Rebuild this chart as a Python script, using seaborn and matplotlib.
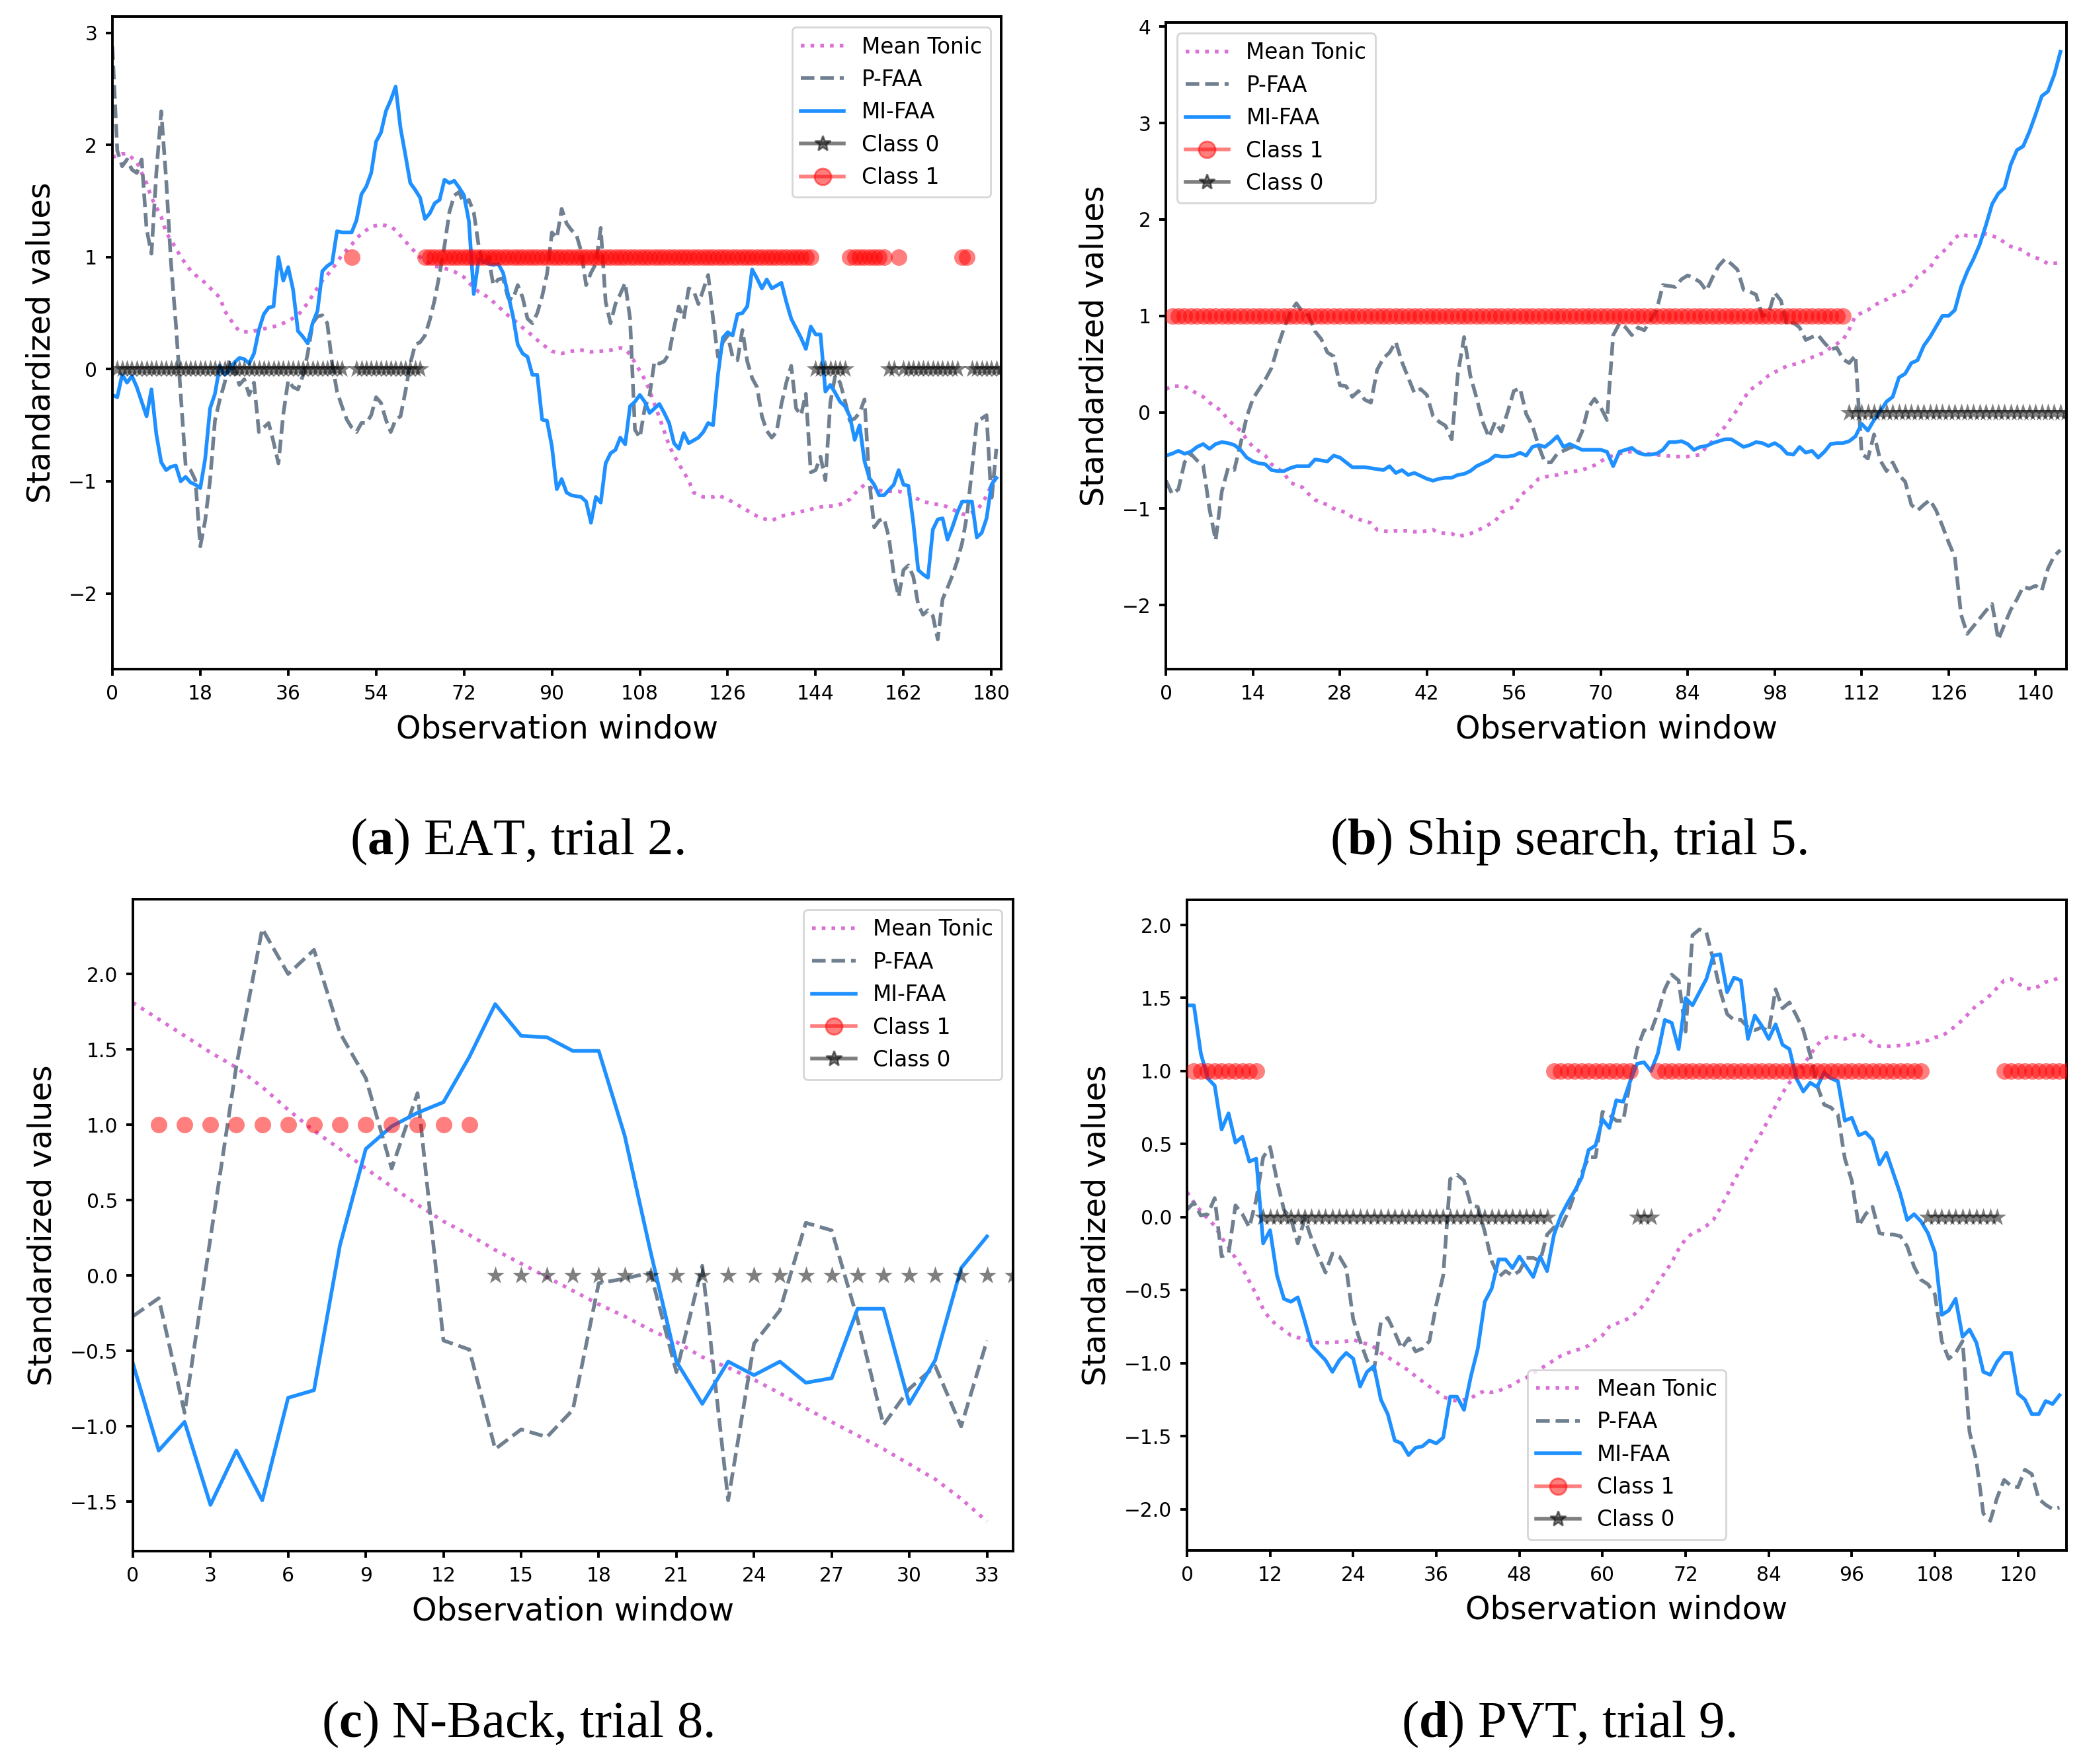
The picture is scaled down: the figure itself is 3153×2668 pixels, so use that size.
import numpy as np
import pandas as pd
import seaborn as sns
import matplotlib.pyplot as plt
from matplotlib.lines import Line2D

# ---- panel (a): EAT, trial 2 ----
a_mi_x = [0, 1, 2, 3, 4, 5, 7, 8, 9, 10, 11, 12, 13, 14, 15, 16, 17, 18, 19, 20, 21, 22, 23, 24, 25, 26, 27, 28, 29, 30,
          31, 32, 33, 34, 35, 36, 37, 38, 39, 40, 41, 42, 43, 44, 45, 46, 47, 49, 50, 51, 52, 53, 54, 55, 56, 57, 58, 59, 60,
          61, 62, 63, 64, 65, 66, 67, 68, 69, 70, 71, 72, 73, 74, 75, 77, 78, 79, 80, 81, 82, 83, 84, 85, 86, 87, 88, 89, 90,
          91, 92, 93, 94, 96, 97, 98, 99, 100, 101, 102, 103, 104, 105, 106, 107, 108, 109, 110, 112, 113, 114, 115, 116,
          117, 118, 120, 121, 122, 123, 124, 125, 126, 127, 128, 129, 130, 131, 132, 133, 134, 135, 137, 138, 139, 141, 142,
          143, 144, 145, 146, 147, 148, 149, 150, 151, 152, 153, 154, 155, 156, 157, 158, 160, 161, 162, 163, 164, 165, 166,
          167, 168, 169, 170, 171, 172, 173, 174, 176, 177, 178, 179, 180, 181]
a_mi_y = [-0.23, -0.25, -0.05, -0.12, -0.06, -0.16, -0.42, -0.18, -0.58, -0.83, -0.90, -0.87, -0.86, -1.00, -0.96, -1.01,
          -1.03, -1.06, -0.80, -0.35, -0.22, 0.03, -0.05, -0.01, 0.06, 0.10, 0.09, 0.05, 0.14, 0.35, 0.49, 0.55, 0.56, 1.00,
          0.79, 0.91, 0.71, 0.34, 0.29, 0.23, 0.41, 0.52, 0.875, 0.92, 0.95, 1.23, 1.22, 1.22, 1.33, 1.56, 1.63, 1.75, 2.03,
          2.11, 2.30, 2.40, 2.52, 2.15, 1.91, 1.66, 1.60, 1.53, 1.34, 1.39, 1.48, 1.51, 1.69, 1.66, 1.68, 1.62, 1.55, 1.32,
          0.67, 0.98, 0.94, 0.93, 0.94, 0.86, 0.67, 0.48, 0.22, 0.14, 0.11, -0.05, -0.05, -0.45, -0.46, -0.69, -1.07, -0.98,
          -1.10, -1.125, -1.14, -1.18, -1.37, -1.14, -1.19, -0.84, -0.75, -0.72, -0.61, -0.67, -0.33, -0.29, -0.23, -0.29,
          -0.39, -0.31, -0.39, -0.48, -0.66, -0.71, -0.57, -0.66, -0.61, -0.56, -0.48, -0.50, -0.05, 0.28, 0.33, 0.30, 0.49,
          0.50, 0.56, 0.89, 0.81, 0.72, 0.80, 0.72, 0.77, 0.60, 0.45, 0.28, 0.18, 0.38, 0.31, 0.31, -0.20, -0.14, -0.21,
          -0.29, -0.33, -0.42, -0.63, -0.50, -0.82, -0.97, -1.03, -1.125, -1.125, -1.03, -0.90, -1.03, -1.04, -1.37, -1.79,
          -1.83, -1.86, -1.43, -1.34, -1.33, -1.52, -1.41, -1.28, -1.18, -1.18, -1.50, -1.46, -1.33, -1.03, -0.97]
a_pf_x = list(range(182))
a_pf_y = [2.88, 1.95, 1.81, 1.87, 1.78, 1.75, 1.87, 1.25, 1.03, 1.75, 2.30, 1.70, 0.95, 0.40, -0.23, -0.86, -0.90, -0.99,
          -1.58, -1.35, -0.99, -0.46, -0.27, -0.12, 0.09, -0.01, -0.14, -0.09, -0.23, -0.12, -0.56, -0.52, -0.48, -0.65,
          -0.84, -0.40, -0.10, -0.16, -0.18, -0.06, 0.14, 0.41, 0.47, 0.48, 0.41, 0.05, -0.20, -0.33, -0.45, -0.52, -0.56,
          -0.48, -0.48, -0.41, -0.25, -0.30, -0.45, -0.56, -0.45, -0.42, -0.20, 0.05, 0.22, 0.24, 0.30, 0.44, 0.62, 0.85,
          1.10, 1.40, 1.55, 1.58, 1.47, 1.51, 1.40, 1.10, 0.92, 1.00, 0.75, 0.80, 0.81, 0.64, 0.62, 0.75, 0.64, 0.45, 0.41,
          0.50, 0.65, 0.85, 1.22, 1.17, 1.43, 1.30, 1.24, 1.20, 1.05, 0.75, 0.86, 0.94, 1.26, 0.60, 0.41, 0.58, 0.67, 0.77,
          0.45, -0.54, -0.61, -0.35, -0.23, 0.07, 0.05, 0.07, 0.14, 0.37, 0.56, 0.45, 0.72, 0.70, 0.58, 0.71, 0.84, 0.45,
          0.11, 0.24, 0.30, 0.11, 0.08, 0.35, 0.07, -0.08, -0.16, -0.42, -0.55, -0.61, -0.56, -0.31, -0.12, 0.03, -0.35,
          -0.41, -0.22, -0.92, -0.90, -0.78, -0.99, -0.30, -0.06, -0.12, -0.28, -0.46, -0.44, -0.39, -0.27, -1.00, -1.41,
          -1.35, -1.33, -1.50, -1.83, -2.03, -1.79, -1.75, -1.85, -2.10, -2.19, -2.15, -2.20, -2.41, -2.05, -1.95, -1.84,
          -1.71, -1.55, -1.30, -0.90, -0.46, -0.44, -0.41, -1.18, -0.71]
a_mt_x = [0, 2, 3, 5, 6, 7, 8, 10, 11, 13, 14, 16, 17, 19, 21, 22, 23, 25, 26, 28, 30, 32, 34, 36, 38, 40, 41, 43, 44, 46,
          47, 49, 50, 52, 53, 55, 57, 58, 60, 61, 63, 64, 66, 68, 70, 72, 73, 75, 77, 78, 80, 81, 83, 84, 86, 87, 89, 90, 92,
          94, 96, 98, 100, 102, 104, 105, 106, 107, 109, 110, 112, 114, 115, 117, 118, 119, 121, 123, 124, 126, 128, 130,
          131, 133, 135, 137, 139, 140, 142, 144, 146, 148, 150, 151, 152, 154, 156, 158, 160, 161, 163, 164, 166, 168, 170,
          172, 174, 175, 177, 178, 179, 180, 181]
a_mt_y = [1.89, 1.92, 1.92, 1.85, 1.75, 1.66, 1.53, 1.36, 1.22, 1.08, 1.00, 0.88, 0.84, 0.77, 0.68, 0.64, 0.52, 0.39, 0.34,
          0.33, 0.35, 0.37, 0.39, 0.43, 0.48, 0.59, 0.66, 0.79, 0.84, 0.95, 1.02, 1.11, 1.17, 1.24, 1.27, 1.29, 1.27, 1.24,
          1.14, 1.09, 1.00, 0.96, 0.92, 0.90, 0.87, 0.82, 0.77, 0.69, 0.64, 0.60, 0.52, 0.48, 0.41, 0.37, 0.30, 0.26, 0.19,
          0.16, 0.14, 0.16, 0.17, 0.155, 0.16, 0.17, 0.19, 0.18, 0.13, 0.06, -0.09, -0.19, -0.43, -0.68, -0.77, -0.92,
          -0.99, -1.10, -1.14, -1.14, -1.125, -1.16, -1.21, -1.26, -1.29, -1.33, -1.35, -1.31, -1.29, -1.28, -1.26, -1.24,
          -1.22, -1.22, -1.19, -1.16, -1.11, -1.03, -1.07, -1.09, -1.09, -1.09, -1.11, -1.14, -1.18, -1.20, -1.21, -1.25,
          -1.29, -1.30, -1.26, -1.20, -1.13, -1.03, -0.95]
# (label, first window, last window)
a_class_runs = [(0, 1, 47), (1, 49, 49), (0, 50, 63), (1, 64, 143), (0, 144, 150), (1, 151, 158), (0, 159, 160),
                (1, 161, 161), (0, 162, 173), (1, 174, 175), (0, 176, 182)]

# ---- panel (b): Ship search, trial 5 ----
b_x = list(range(145))
b_mi_y = [-0.45, -0.43, -0.40, -0.43, -0.41, -0.36, -0.33, -0.38, -0.33, -0.31, -0.32, -0.34, -0.39, -0.47, -0.51, -0.53,
          -0.54, -0.60, -0.61, -0.61, -0.58, -0.56, -0.56, -0.56, -0.49, -0.50, -0.51, -0.45, -0.47, -0.52, -0.57, -0.57,
          -0.57, -0.58, -0.59, -0.60, -0.56, -0.63, -0.60, -0.65, -0.63, -0.66, -0.69, -0.71, -0.69, -0.68, -0.68, -0.65,
          -0.64, -0.61, -0.56, -0.53, -0.50, -0.45, -0.46, -0.46, -0.45, -0.42, -0.45, -0.36, -0.34, -0.36, -0.31, -0.25,
          -0.36, -0.33, -0.36, -0.39, -0.39, -0.39, -0.39, -0.41, -0.56, -0.41, -0.39, -0.37, -0.42, -0.44, -0.44, -0.43,
          -0.39, -0.31, -0.31, -0.30, -0.33, -0.39, -0.36, -0.35, -0.32, -0.30, -0.28, -0.28, -0.32, -0.36, -0.34, -0.31,
          -0.32, -0.35, -0.32, -0.36, -0.43, -0.44, -0.36, -0.42, -0.40, -0.47, -0.41, -0.33, -0.32, -0.32, -0.30, -0.25,
          -0.12, -0.19, -0.08, 0.01, 0.11, 0.16, 0.36, 0.40, 0.51, 0.54, 0.69, 0.78, 0.89, 1.00, 1.00, 1.06, 1.30, 1.46,
          1.59, 1.74, 1.94, 2.16, 2.27, 2.33, 2.57, 2.72, 2.76, 2.91, 3.09, 3.28, 3.33, 3.50, 3.74]
b_pf_y = [-0.71, -0.85, -0.80, -0.52, -0.43, -0.50, -0.55, -1.00, -1.33, -0.82, -0.58, -0.60, -0.33, -0.05, 0.14, 0.24,
          0.34, 0.46, 0.68, 0.87, 1.04, 1.13, 1.04, 1.00, 0.84, 0.76, 0.62, 0.58, 0.28, 0.27, 0.16, 0.22, 0.13, 0.10, 0.44,
          0.56, 0.62, 0.73, 0.52, 0.36, 0.20, 0.24, 0.18, -0.04, -0.10, -0.14, -0.28, 0.40, 0.78, 0.38, 0.15, -0.10, -0.26,
          -0.10, -0.20, 0.00, 0.22, 0.25, -0.02, -0.14, -0.35, -0.52, -0.52, -0.43, -0.40, -0.37, -0.35, -0.20, 0.05, 0.14,
          0.05, -0.08, 0.80, 0.92, 0.88, 0.80, 0.88, 0.85, 0.95, 1.06, 1.32, 1.31, 1.30, 1.38, 1.42, 1.39, 1.35, 1.26, 1.40,
          1.52, 1.59, 1.54, 1.48, 1.27, 1.25, 1.22, 1.00, 1.02, 1.24, 1.16, 0.90, 0.93, 0.88, 0.75, 0.78, 0.80, 0.72, 0.65,
          0.67, 0.55, 0.51, 0.59, -0.43, -0.48, -0.23, -0.50, -0.61, -0.52, -0.65, -0.72, -0.96, -1.02, -0.96, -0.91,
          -1.02, -1.18, -1.35, -1.50, -2.10, -2.30, -2.22, -2.14, -2.06, -1.99, -2.36, -2.20, -2.05, -1.94, -1.81, -1.83,
          -1.80, -1.85, -1.62, -1.49, -1.43]
b_mt_x = [0, 1, 3, 4, 6, 7, 9, 10, 12, 13, 14, 16, 17, 19, 20, 22, 23, 24, 26, 27, 29, 30, 31, 33, 34, 36, 37, 39, 40, 41,
          43, 44, 46, 47, 49, 50, 51, 53, 54, 56, 57, 59, 60, 61, 63, 64, 66, 67, 69, 70, 71, 73, 74, 76, 77, 79, 80, 82, 84,
          86, 87, 88, 89, 90, 91, 92, 93, 94, 96, 97, 99, 100, 102, 103, 104, 106, 107, 109, 110, 111, 113, 114, 116, 117,
          119, 120, 121, 123, 124, 126, 127, 128, 129, 131, 132, 134, 135, 136, 138, 139, 141, 142, 144]
b_mt_y = [0.24, 0.27, 0.27, 0.23, 0.16, 0.10, 0.01, -0.08, -0.19, -0.28, -0.36, -0.45, -0.54, -0.63, -0.73, -0.78, -0.85,
          -0.91, -0.96, -1.00, -1.04, -1.09, -1.11, -1.15, -1.22, -1.24, -1.23, -1.23, -1.24, -1.24, -1.22, -1.25, -1.26,
          -1.29, -1.26, -1.23, -1.20, -1.13, -1.04, -0.98, -0.87, -0.76, -0.69, -0.67, -0.65, -0.63, -0.61, -0.60, -0.55,
          -0.51, -0.47, -0.43, -0.41, -0.41, -0.43, -0.44, -0.45, -0.46, -0.46, -0.44, -0.36, -0.30, -0.22, -0.15, -0.06,
          0.03, 0.14, 0.23, 0.32, 0.38, 0.45, 0.48, 0.51, 0.54, 0.57, 0.62, 0.67, 0.75, 0.86, 1.00, 1.06, 1.11, 1.17, 1.21,
          1.26, 1.32, 1.41, 1.50, 1.60, 1.72, 1.81, 1.85, 1.83, 1.83, 1.85, 1.81, 1.76, 1.72, 1.68, 1.63, 1.58, 1.54, 1.55]
b_class_runs = [(1, 1, 109), (0, 110, 145)]

# ---- panel (c): N-Back, trial 8 ----
c_x = list(range(34))
c_mi_y = [-0.58, -1.16, -0.97, -1.52, -1.16, -1.49, -0.81, -0.76, 0.20, 0.84, 0.99, 1.08, 1.15, 1.45, 1.80, 1.59, 1.58,
          1.49, 1.49, 0.93, 0.16, -0.57, -0.85, -0.57, -0.66, -0.57, -0.71, -0.68, -0.22, -0.22, -0.85, -0.56, 0.05, 0.26]
c_pf_y = [-0.27, -0.15, -0.91, 0.25, 1.39, 2.30, 2.00, 2.16, 1.61, 1.31, 0.71, 1.21, -0.43, -0.49, -1.15, -1.02, -1.07,
          -0.89, -0.05, -0.02, 0.02, -0.64, 0.065, -1.49, -0.45, -0.23, 0.35, 0.30, -0.29, -0.99, -0.75, -0.60, -1.00, -0.43]
c_mt_y = [1.81, 1.70, 1.59, 1.48, 1.38, 1.25, 1.10, 0.96, 0.84, 0.71, 0.59, 0.47, 0.36, 0.27, 0.17, 0.08, -0.01, -0.10,
          -0.19, -0.27, -0.36, -0.44, -0.54, -0.61, -0.69, -0.78, -0.88, -0.97, -1.06, -1.15, -1.25, -1.35, -1.48, -1.63]
c_class_runs = [(1, 1, 13), (0, 14, 34)]

# ---- panel (d): PVT, trial 9 ----
d_x = list(range(127))
d_mi_y = [1.45, 1.45, 1.12, 0.95, 0.90, 0.60, 0.71, 0.51, 0.55, 0.38, 0.40, -0.18, -0.09, -0.40, -0.56, -0.58, -0.55,
          -0.71, -0.88, -0.93, -0.98, -1.06, -0.98, -0.93, -0.97, -1.16, -1.06, -1.02, -1.25, -1.35, -1.53, -1.55, -1.63,
          -1.58, -1.57, -1.53, -1.55, -1.51, -1.23, -1.23, -1.32, -1.09, -0.90, -0.58, -0.49, -0.29, -0.29, -0.35, -0.27,
          -0.34, -0.41, -0.27, -0.37, -0.12, 0.01, 0.10, 0.18, 0.27, 0.46, 0.49, 0.67, 0.61, 0.80, 0.79, 0.93, 1.05, 1.06,
          1.00, 1.12, 1.35, 1.33, 1.15, 1.50, 1.45, 1.54, 1.63, 1.79, 1.80, 1.54, 1.64, 1.62, 1.22, 1.38, 1.31, 1.22, 1.32,
          1.18, 1.15, 0.95, 0.86, 0.92, 0.89, 0.99, 0.95, 0.93, 0.66, 0.68, 0.56, 0.58, 0.53, 0.36, 0.44, 0.30, 0.16, -0.02,
          0.02, -0.03, -0.11, -0.24, -0.67, -0.64, -0.56, -0.82, -0.77, -0.86, -1.06, -1.08, -0.99, -0.93, -0.93, -1.21,
          -1.25, -1.35, -1.35, -1.26, -1.28, -1.22]
d_pf_y = [0.05, 0.10, 0.01, 0.02, 0.13, -0.27, -0.25, 0.08, 0.02, -0.07, 0.12, 0.41, 0.48, 0.25, 0.05, -0.01, -0.18,
          -0.01, -0.15, -0.27, -0.38, -0.25, -0.27, -0.35, -0.70, -0.85, -0.98, -1.05, -0.72, -0.69, -0.79, -0.90, -0.83,
          -0.92, -0.90, -0.85, -0.60, -0.40, 0.26, 0.29, 0.25, 0.08, 0.07, -0.10, -0.30, -0.41, -0.37, -0.40, -0.37, -0.28,
          -0.28, -0.30, -0.12, -0.07, -0.07, 0.03, 0.16, 0.30, 0.41, 0.41, 0.72, 0.70, 0.66, 0.66, 0.93, 1.15, 1.28, 1.27,
          1.40, 1.56, 1.66, 1.62, 1.27, 1.93, 1.97, 1.95, 1.76, 1.55, 1.39, 1.35, 1.35, 1.30, 1.28, 1.30, 1.27, 1.56, 1.43,
          1.47, 1.38, 1.28, 1.11, 0.90, 0.77, 0.75, 0.70, 0.40, 0.25, -0.06, 0.02, 0.07, -0.11, -0.12, -0.12, -0.13, -0.20,
          -0.34, -0.43, -0.46, -0.53, -0.85, -0.97, -0.93, -0.85, -1.47, -1.67, -2.03, -2.08, -1.92, -1.80, -1.84, -1.85,
          -1.73, -1.76, -1.93, -1.97, -2.00, -1.99]
d_mt_x = [0, 1, 2, 3, 4, 5, 6, 7, 8, 9, 10, 11, 12, 13, 15, 17, 19, 21, 23, 24, 26, 27, 28, 29, 30, 32, 33, 35, 36, 37, 38,
          39, 40, 41, 42, 43, 44, 45, 47, 48, 49, 50, 51, 52, 53, 54, 55, 57, 58, 59, 60, 61, 62, 63, 64, 65, 66, 67, 68, 69,
          70, 71, 72, 73, 74, 75, 76, 77, 78, 79, 80, 81, 82, 83, 84, 85, 86, 87, 88, 89, 90, 91, 92, 93, 94, 95, 96, 97, 98,
          99, 100, 102, 104, 106, 107, 108, 109, 110, 111, 112, 113, 114, 115, 116, 117, 118, 119, 120, 121, 122, 123, 124,
          125, 126]
d_mt_y = [0.17, 0.10, 0.04, -0.01, -0.06, -0.14, -0.21, -0.28, -0.35, -0.44, -0.53, -0.63, -0.70, -0.74, -0.81, -0.84,
          -0.86, -0.86, -0.85, -0.84, -0.87, -0.89, -0.93, -0.96, -0.99, -1.05, -1.09, -1.16, -1.19, -1.23, -1.25, -1.26,
          -1.25, -1.24, -1.21, -1.19, -1.20, -1.19, -1.15, -1.12, -1.10, -1.07, -1.04, -1.01, -0.98, -0.95, -0.93, -0.90,
          -0.88, -0.84, -0.81, -0.75, -0.73, -0.71, -0.69, -0.65, -0.60, -0.53, -0.45, -0.38, -0.31, -0.22, -0.15, -0.11,
          -0.09, -0.06, -0.02, 0.06, 0.15, 0.25, 0.33, 0.42, 0.50, 0.58, 0.67, 0.76, 0.85, 0.92, 0.98, 1.04, 1.11, 1.18,
          1.22, 1.24, 1.23, 1.22, 1.24, 1.26, 1.23, 1.19, 1.17, 1.17, 1.18, 1.20, 1.21, 1.23, 1.24, 1.27, 1.31, 1.35, 1.40,
          1.45, 1.48, 1.52, 1.57, 1.62, 1.63, 1.60, 1.57, 1.56, 1.58, 1.61, 1.62, 1.64]
d_class_runs = [(1, 1, 10), (0, 11, 52), (1, 53, 64), (0, 65, 67), (1, 68, 106), (0, 107, 117), (1, 118, 127)]

captions = ["EAT, trial 2.", "Ship search, trial 5.", "N-Back, trial 8.", "PVT, trial 9."]
letters = ["a", "b", "c", "d"]

plt.rcParams['mathtext.fontset'] = 'custom'
plt.rcParams['mathtext.rm'] = 'Liberation Serif'
plt.rcParams['mathtext.bf'] = 'Liberation Serif:bold'
plt.rcParams['axes.linewidth'] = 1.4
plt.rcParams['xtick.major.width'] = 1.4
plt.rcParams['ytick.major.width'] = 1.4
plt.rcParams['xtick.major.size'] = 3.7
plt.rcParams['ytick.major.size'] = 3.7
plt.rcParams['xtick.major.pad'] = 4.5
plt.rcParams['ytick.major.pad'] = 4.5
plt.rcParams['xtick.labelsize'] = 10.7
plt.rcParams['ytick.labelsize'] = 10.7

LW = 2.0
MS = 9


def class_frame(runs):
    rows = []
    for lab, first, last in runs:
        for w in range(first, last + 1):
            rows.append((w, lab))
    return pd.DataFrame(rows, columns=['window', 'label'])


def draw_panel(ax, mt, pf, mi, runs, xmax, step, order, loc):
    sns.lineplot(x=mt[0], y=mt[1], ax=ax, color='orchid', linestyle=':', linewidth=LW,
                 estimator=None, sort=False)
    sns.lineplot(x=pf[0], y=pf[1], ax=ax, color='slategray', linestyle='--', linewidth=LW,
                 estimator=None, sort=False)
    sns.lineplot(x=mi[0], y=mi[1], ax=ax, color='dodgerblue', linestyle='-', linewidth=LW,
                 estimator=None, sort=False)
    cls = class_frame(runs)
    for lab in order:
        part = cls[cls['label'] == lab]
        if lab == 0:
            sns.scatterplot(x=part['window'], y=part['label'], ax=ax, marker='*', s=MS ** 2 * 1.3,
                            color='black', alpha=0.5, linewidth=0, zorder=3)
        else:
            sns.scatterplot(x=part['window'], y=part['label'], ax=ax, marker='o', s=MS ** 2,
                            color='red', alpha=0.5, linewidth=0, zorder=3)
    ax.set_xlim(0, xmax)
    ax.set_xticks(np.arange(0, xmax, step))
    ax.set_xlabel('Observation window', fontsize=17.2, labelpad=5.5)
    ax.set_ylabel('Standardized values', fontsize=17.2, labelpad=6.5)

    handles = [Line2D([], [], color='orchid', linestyle=':', linewidth=LW, label='Mean Tonic'),
               Line2D([], [], color='slategray', linestyle='--', linewidth=LW, label='P-FAA'),
               Line2D([], [], color='dodgerblue', linestyle='-', linewidth=LW, label='MI-FAA')]
    for lab in order:
        if lab == 0:
            handles.append(Line2D([], [], color='black', alpha=0.5, marker='*', markersize=MS,
                                  linewidth=LW, label='Class 0'))
        else:
            handles.append(Line2D([], [], color='red', alpha=0.5, marker='o', markersize=MS,
                                  linewidth=LW, label='Class 1'))
    ax.legend(handles=handles, loc=loc, fontsize=11.8)


fig = plt.figure(figsize=(15.765, 13.34), dpi=200)

ax_a = fig.add_axes([0.0539, 0.6207, 0.4263, 0.3699])
draw_panel(ax_a, (a_mt_x, a_mt_y), (a_pf_x, a_pf_y), (a_mi_x, a_mi_y), a_class_runs,
           182, 18, [0, 1], 'upper right')

ax_b = fig.add_axes([0.5592, 0.6207, 0.4320, 0.3666])
draw_panel(ax_b, (b_mt_x, b_mt_y), (b_x, b_pf_y), (b_x, b_mi_y), b_class_runs,
           145, 14, [1, 0], 'upper left')

ax_c = fig.add_axes([0.0637, 0.1207, 0.4221, 0.3696])
draw_panel(ax_c, (c_x, c_mt_y), (c_x, c_pf_y), (c_x, c_mi_y), c_class_runs,
           34, 3, [1, 0], 'upper right')

ax_d = fig.add_axes([0.5693, 0.1211, 0.4218, 0.3688])
draw_panel(ax_d, (d_mt_x, d_mt_y), (d_x, d_pf_y), (d_x, d_mi_y), d_class_runs,
           127, 12, [1, 0], 'lower center')

# subfigure captions
cap_pos = [(782 / 3153, 1 - 1292 / 2668), (2372 / 3153, 1 - 1292 / 2668),
           (782 / 3153, 1 - 2627 / 2668), (2372 / 3153, 1 - 2627 / 2668)]
for (cx, cy), let, cap in zip(cap_pos, letters, captions):
    fig.text(cx, cy, r'($\mathbf{' + let + r'}$) ' + cap, ha='center', va='baseline',
             fontsize=28.3, family='Liberation Serif')

fig.savefig('out.png', dpi=200)
